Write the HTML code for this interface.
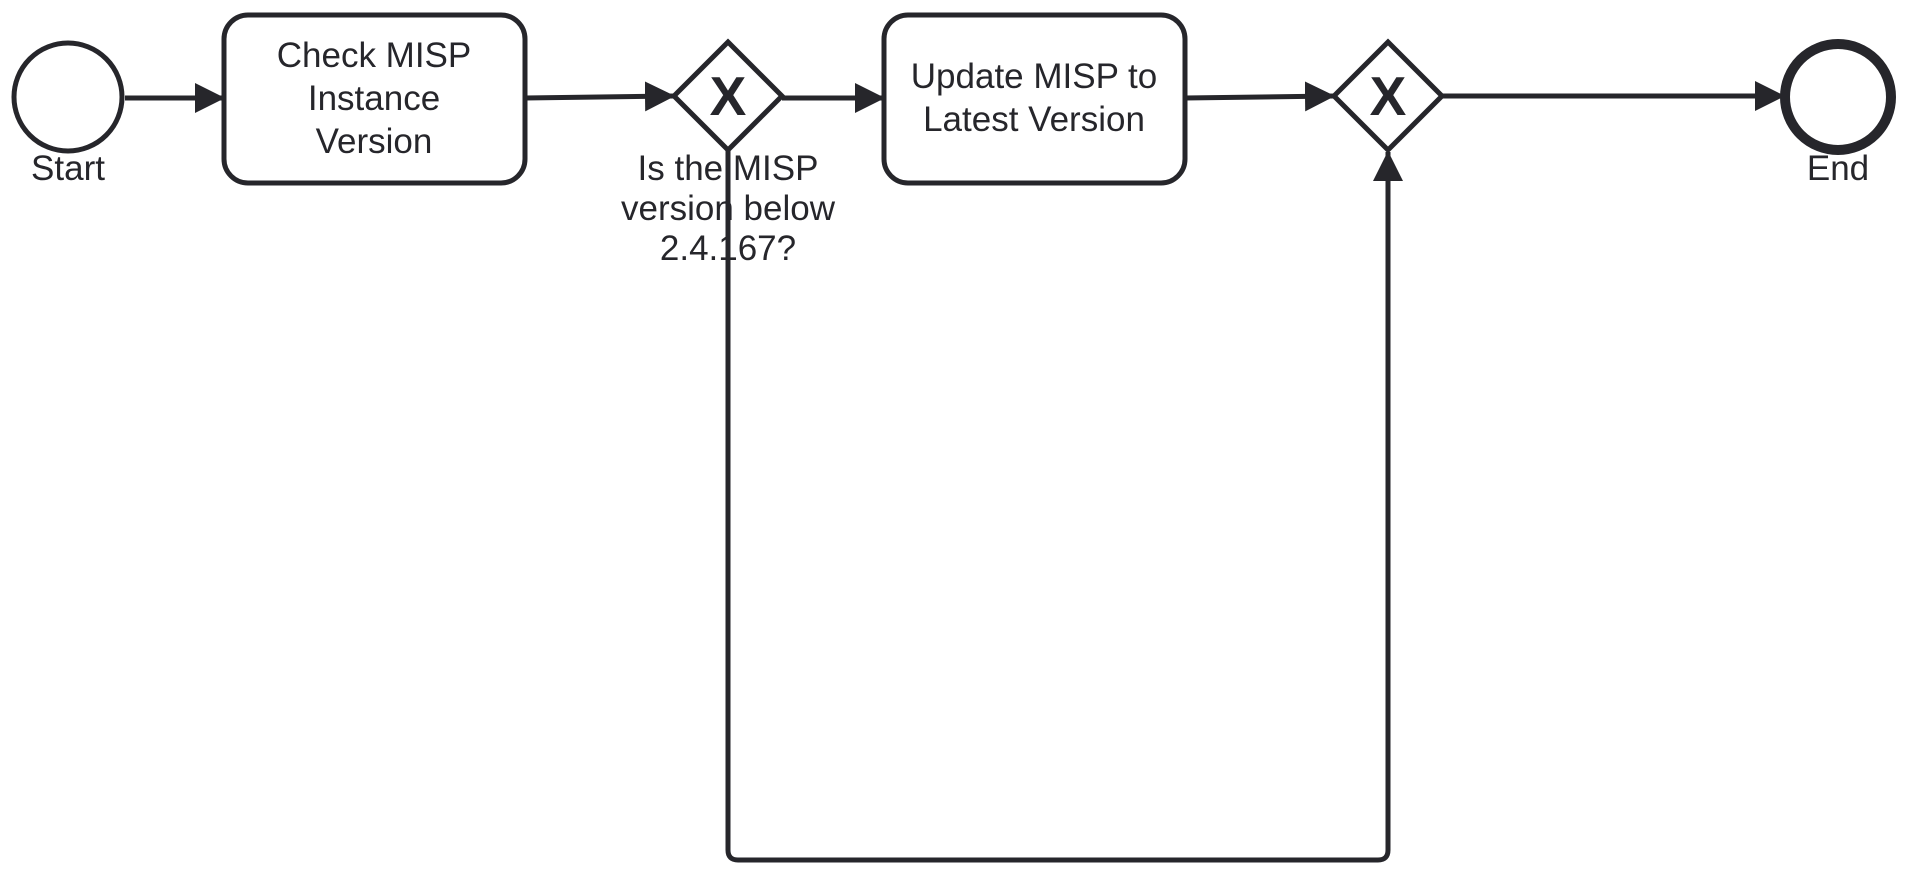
<!DOCTYPE html>
<html><head><meta charset="utf-8"><style>
html,body{margin:0;padding:0;background:#fff;}
svg{display:block;}
text{font-family:"Liberation Sans",Arial,sans-serif;font-size:35px;fill:#26262b;text-anchor:middle;}
</style></head><body>
<svg width="1911" height="876" viewBox="0 0 1911 876" xmlns="http://www.w3.org/2000/svg">
<defs>
<marker id="a" markerWidth="30" markerHeight="30" refX="29" refY="15" orient="auto" markerUnits="userSpaceOnUse">
<path d="M0,0 L30,15 L0,30 Z" fill="#26262b"/>
</marker>
</defs>
<g stroke="#26262b" stroke-width="5" fill="none">
<path d="M728,150 L728,850 Q728,860 738,860 L1378,860 Q1388,860 1388,850 L1388,152" marker-end="url(#a)"/>
<line x1="125" y1="98" x2="224" y2="98" marker-end="url(#a)"/>
<line x1="525" y1="98" x2="674" y2="96" marker-end="url(#a)"/>
<line x1="782" y1="98" x2="884" y2="98" marker-end="url(#a)"/>
<line x1="1185" y1="98" x2="1334" y2="96" marker-end="url(#a)"/>
<line x1="1442" y1="96" x2="1784" y2="96" marker-end="url(#a)"/>
</g>
<circle cx="68" cy="97" r="54" fill="#fff" stroke="#26262b" stroke-width="5"/>
<rect x="224" y="15" width="301" height="168" rx="24" fill="#fff" stroke="#26262b" stroke-width="5"/>
<rect x="884" y="15" width="301" height="168" rx="24" fill="#fff" stroke="#26262b" stroke-width="5"/>
<polygon points="728,42 782,96 728,150 674,96" fill="#fff" stroke="#26262b" stroke-width="5"/>
<polygon points="1388,42 1442,96 1388,150 1334,96" fill="#fff" stroke="#26262b" stroke-width="5"/>
<circle cx="1838" cy="97" r="53" fill="#fff" stroke="#26262b" stroke-width="10"/>
<line x1="728" y1="150" x2="728" y2="280" stroke="#26262b" stroke-width="5"/>
<text x="728" y="115" style="font-size:55px;font-weight:bold">X</text>
<text x="1388" y="115" style="font-size:55px;font-weight:bold">X</text>
<text x="68" y="180">Start</text>
<text x="1838" y="180">End</text>
<text x="374" y="67">Check MISP</text>
<text x="374" y="110">Instance</text>
<text x="374" y="153">Version</text>
<text x="1034" y="88">Update MISP to</text>
<text x="1034" y="131">Latest Version</text>
<text x="728" y="180">Is the MISP</text>
<text x="728" y="220">version below</text>
<text x="728" y="260">2.4.167?</text>
</svg>
</body></html>
